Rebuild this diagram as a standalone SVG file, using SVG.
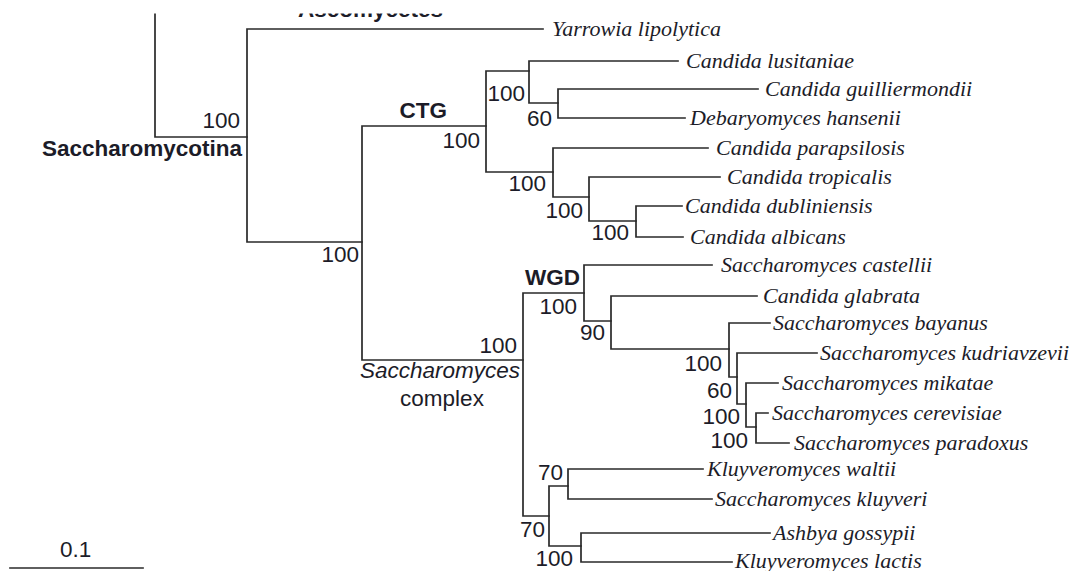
<svg xmlns="http://www.w3.org/2000/svg" width="1073" height="571" viewBox="0 0 1073 571">
<style>
.br{fill:none;stroke:#2a2a2a;stroke-width:1.7;stroke-linecap:square}
.sp{font-family:"Liberation Serif","Times New Roman",serif;font-style:italic;font-size:22px;fill:#1c1c28}
.bs{font-family:"Liberation Sans",Arial,sans-serif;font-size:22.5px;fill:#1c1c28;text-anchor:end}
.cl{font-family:"Liberation Sans",Arial,sans-serif;font-size:22.5px;font-weight:bold;fill:#1c1c28}
.lb{font-family:"Liberation Sans",Arial,sans-serif;font-size:22.5px;fill:#1c1c28}
</style>
<rect width="1073" height="571" fill="#fff"/>
<g id="connectors">
<path class="br" d="M155,10 V137 H247"/>
<path class="br" d="M247,29 V242 M247,29 H543 M247,242 H362"/>
<path class="br" d="M362,126 V360 M362,126 H486 M362,360 H523"/>
<path class="br" d="M486,71 V172 M486,71 H529 M486,172 H553"/>
<path class="br" d="M529,61 V103 M529,61 H678 M529,103 H558"/>
<path class="br" d="M558,89 V118 M558,89 H758 M558,118 H685"/>
<path class="br" d="M553,148 V197 M553,148 H708 M553,197 H589"/>
<path class="br" d="M589,177 V221 M589,177 H720 M589,221 H636"/>
<path class="br" d="M636,206 V237 M636,206 H682 M636,237 H683"/>
<path class="br" d="M523,293 V516 M523,293 H584 M523,516 H549"/>
<path class="br" d="M584,265 V321 M584,265 H712 M584,321 H611"/>
<path class="br" d="M611,296 V349 M611,296 H757 M611,349 H729"/>
<path class="br" d="M729,323 V377 M729,323 H770 M729,377 H737"/>
<path class="br" d="M737,353 V404 M737,353 H817 M737,404 H746"/>
<path class="br" d="M746,383 V427 M746,383 H778 M746,427 H756"/>
<path class="br" d="M756,413 V443 M756,413 H768 M756,443 H789"/>
<path class="br" d="M549,486 V546 M549,486 H568 M549,546 H581"/>
<path class="br" d="M568,469 V499 M568,469 H703 M568,499 H712"/>
<path class="br" d="M581,533 V562 M581,533 H770 M581,562 H732"/>
<path class="br" d="M10,568 H143"/>
</g>
<g id="clade-ascomycetes"><text class="cl" x="298" y="17">Ascomycetes</text></g>
<rect id="crop-edge" x="0" y="0" width="1073" height="13.5" fill="#fff"/>
<g id="clade-saccharomycotina"><text class="cl" x="242" y="156" text-anchor="end">Saccharomycotina</text><text class="bs" x="240" y="128">100</text></g>
<g id="leaf-yarrowia"><text class="sp" x="552" y="36">Yarrowia lipolytica</text></g>
<g id="clade-ctg"><text class="cl" x="447" y="118" text-anchor="end">CTG</text><text class="bs" x="480" y="148">100</text></g>
<g id="node-529"><text class="bs" x="525" y="101">100</text></g>
<g id="node-558"><text class="bs" x="552" y="126">60</text></g>
<g id="leaf-c-lusitaniae"><text class="sp" x="686" y="68">Candida lusitaniae</text></g>
<g id="leaf-c-guilliermondii"><text class="sp" x="765" y="96">Candida guilliermondii</text></g>
<g id="leaf-d-hansenii"><text class="sp" x="690" y="125">Debaryomyces hansenii</text></g>
<g id="node-553"><text class="bs" x="546" y="191">100</text></g>
<g id="node-589"><text class="bs" x="583" y="218">100</text></g>
<g id="node-636"><text class="bs" x="629" y="240">100</text></g>
<g id="leaf-c-parapsilosis"><text class="sp" x="716" y="155">Candida parapsilosis</text></g>
<g id="leaf-c-tropicalis"><text class="sp" x="727" y="184">Candida tropicalis</text></g>
<g id="leaf-c-dubliniensis"><text class="sp" x="685" y="213">Candida dubliniensis</text></g>
<g id="leaf-c-albicans"><text class="sp" x="690" y="244">Candida albicans</text></g>
<g id="node-362"><text class="bs" x="359" y="262">100</text></g>
<g id="clade-saccharomyces-complex"><text class="bs" x="517" y="353">100</text><text class="lb" x="520" y="378" text-anchor="end" font-style="italic">Saccharomyces</text><text class="lb" x="442" y="406" text-anchor="middle">complex</text></g>
<g id="clade-wgd"><text class="cl" x="580" y="285" text-anchor="end">WGD</text><text class="bs" x="577" y="314">100</text></g>
<g id="node-611"><text class="bs" x="605" y="340">90</text></g>
<g id="node-729"><text class="bs" x="722" y="371">100</text></g>
<g id="node-737"><text class="bs" x="732" y="398">60</text></g>
<g id="node-746"><text class="bs" x="740" y="424">100</text></g>
<g id="node-756"><text class="bs" x="748" y="448">100</text></g>
<g id="leaf-s-castellii"><text class="sp" x="721" y="272">Saccharomyces castellii</text></g>
<g id="leaf-c-glabrata"><text class="sp" x="763" y="303">Candida glabrata</text></g>
<g id="leaf-s-bayanus"><text class="sp" x="773" y="330">Saccharomyces bayanus</text></g>
<g id="leaf-s-kudriavzevii"><text class="sp" x="820" y="360">Saccharomyces kudriavzevii</text></g>
<g id="leaf-s-mikatae"><text class="sp" x="782" y="390">Saccharomyces mikatae</text></g>
<g id="leaf-s-cerevisiae"><text class="sp" x="772" y="420">Saccharomyces cerevisiae</text></g>
<g id="leaf-s-paradoxus"><text class="sp" x="794" y="450">Saccharomyces paradoxus</text></g>
<g id="node-568"><text class="bs" x="563" y="480">70</text></g>
<g id="node-549"><text class="bs" x="545" y="537">70</text></g>
<g id="node-581"><text class="bs" x="573" y="566">100</text></g>
<g id="leaf-k-waltii"><text class="sp" x="707" y="476">Kluyveromyces waltii</text></g>
<g id="leaf-s-kluyveri"><text class="sp" x="715" y="506">Saccharomyces kluyveri</text></g>
<g id="leaf-a-gossypii"><text class="sp" x="773" y="540">Ashbya gossypii</text></g>
<g id="leaf-k-lactis"><text class="sp" x="735" y="568">Kluyveromyces lactis</text></g>
<g id="scale-bar"><text class="lb" x="60" y="557">0.1</text></g>
</svg>
